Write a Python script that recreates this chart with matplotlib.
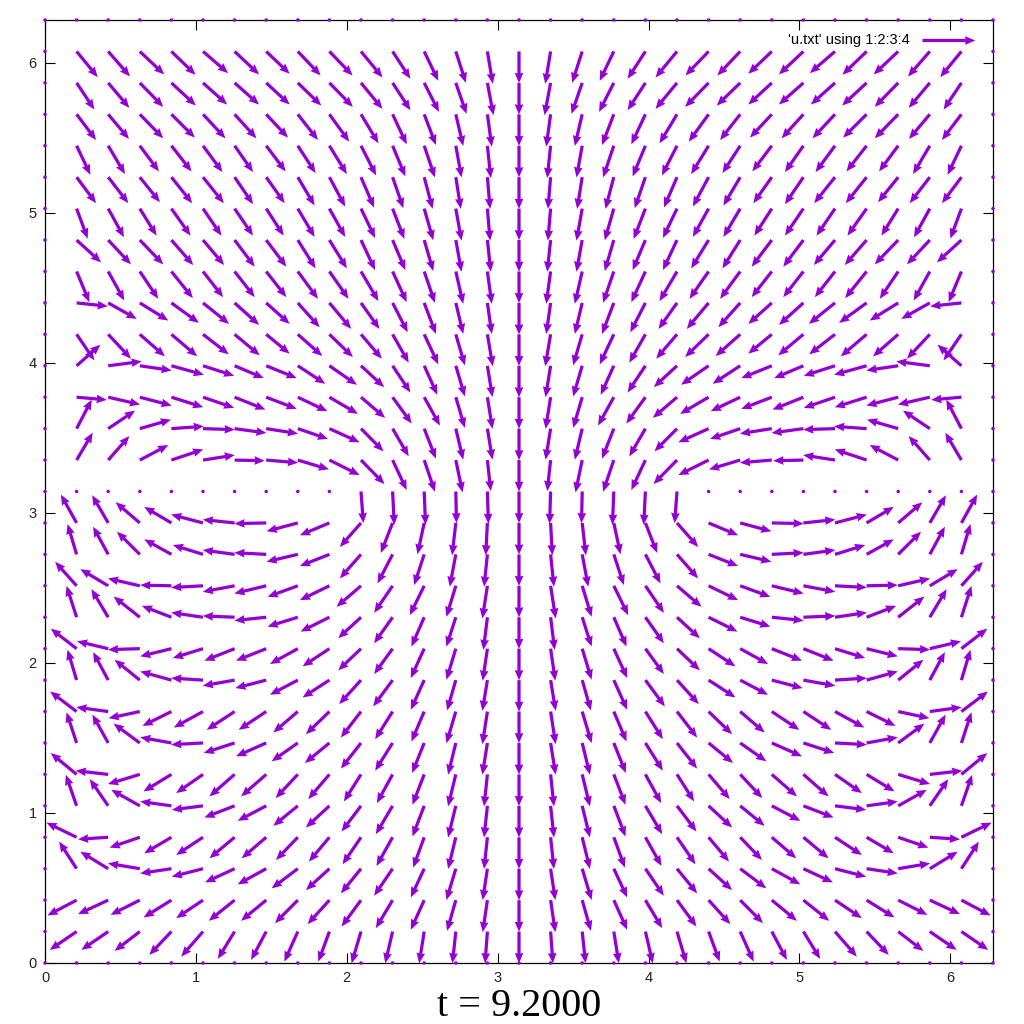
import numpy as np
import matplotlib
matplotlib.use("Agg")
import matplotlib.pyplot as plt

# ---------------- data ----------------
# Domain [0, 2*pi] x [0, 2*pi], 31 x 31 grid points (spacing 2*pi/30).
# Boundary points and the left/right parts of row y = pi are zero vectors.
N_CELLS = 30
DOMAIN = 2 * np.pi

# Vector components for the left half (columns i = 1..15),
# rows listed from top (j = 29) to bottom (j = 1).
# Units: 1/450 of a data unit (u right-positive, v up-positive).
# The field is mirror-symmetric about x = pi (u -> -u, v -> v).
U_HALF = [
    [63, 65, 73, 72, 75, 73, 70, 68, 69, 64, 53, 42, 30, 16, 0],        # j=29
    [53, 63, 70, 73, 72, 73, 70, 70, 70, 64, 53, 44, 32, 18, 0],        # j=28
    [58, 62, 70, 70, 67, 65, 65, 60, 59, 52, 42, 35, 22, 13, 0],        # j=27
    [41, 50, 57, 60, 58, 55, 58, 53, 52, 45, 38, 32, 17, 10, 0],        # j=26
    [58, 60, 60, 62, 62, 55, 55, 50, 47, 39, 32, 25, 15, 8, 0],         # j=25
    [33, 47, 50, 57, 55, 55, 52, 50, 47, 42, 35, 27, 17, 8, 0],         # j=24
    [73, 68, 70, 65, 63, 60, 60, 53, 52, 42, 38, 27, 17, 10, 0],        # j=23
    [38, 48, 55, 64, 60, 60, 60, 60, 57, 52, 42, 32, 22, 13, 0],        # j=22
    [93, 85, 85, 82, 78, 73, 70, 65, 65, 55, 45, 35, 22, 13, 0],        # j=21
    [53, 68, 75, 77, 77, 75, 70, 73, 70, 62, 48, 42, 27, 16, 0],        # j=20
    [71, 100, 95, 97, 93, 87, 91, 82, 82, 69, 53, 39, 27, 15, 0],       # j=19
    [90, 95, 95, 95, 93, 92, 91, 88, 85, 72, 57, 47, 27, 15, 0],        # j=18
    [45, 80, 93, 97, 95, 95, 95, 90, 90, 67, 48, 35, 22, 15, 0],        # j=17
    [48, 63, 85, 95, 95, 90, 95, 93, 90, 70, 42, 32, 20, 10, 0],        # j=16
    [0, 0, 0, 0, 0, 0, 0, 0, 0, 7, 5, 4, 2, 3, 0],                      # j=15
    [-47, -48, -72, -81, -95, -95, -95, -93, -88, -63, -35, -20, -11, -5, 0],   # j=14
    [-27, -45, -68, -81, -90, -95, -95, -93, -88, -63, -45, -30, -18, -10, 0],  # j=13
    [-64, -83, -95, -93, -95, -95, -95, -90, -88, -73, -55, -43, -28, -15, 0],  # j=12
    [-30, -50, -78, -88, -95, -95, -95, -90, -86, -68, -55, -38, -28, -12, 0],  # j=11
    [-77, -93, -95, -93, -90, -90, -90, -83, -80, -68, -55, -40, -28, -14, 0],  # j=10
    [-27, -45, -75, -93, -95, -95, -92, -83, -80, -65, -58, -40, -26, -15, 0],  # j=9
    [-79, -95, -93, -86, -87, -83, -82, -73, -70, -60, -52, -38, -28, -15, 0],  # j=8
    [-30, -47, -78, -93, -95, -92, -90, -78, -73, -60, -52, -36, -23, -15, 0],  # j=7
    [-77, -97, -95, -83, -80, -75, -75, -66, -63, -51, -47, -35, -23, -10, 0],  # j=6
    [-32, -55, -85, -93, -93, -90, -85, -73, -70, -58, -50, -35, -23, -10, 0],  # j=5
    [-90, -90, -90, -81, -80, -75, -73, -65, -61, -55, -48, -33, -23, -10, 0],  # j=4
    [-52, -83, -95, -93, -93, -88, -85, -78, -70, -60, -55, -40, -28, -14, 0],  # j=3
    [-87, -90, -87, -83, -80, -77, -75, -68, -65, -58, -50, -40, -26, -14, 0],  # j=2
    [-80, -80, -75, -66, -65, -50, -45, -40, -33, -28, -22, -15, -10, -7, 0],   # j=1
]
V_HALF = [
    [-77, -75, -69, -70, -65, -69, -67, -72, -72, -78, -82, -88, -94, -97, -95],  # j=29
    [-80, -75, -72, -68, -65, -65, -65, -68, -72, -78, -82, -87, -93, -97, -95],  # j=28
    [-77, -74, -72, -70, -72, -72, -70, -77, -82, -87, -90, -92, -95, -97, -95],  # j=27
    [-87, -85, -77, -77, -79, -79, -77, -82, -85, -89, -92, -95, -95, -97, -95],  # j=26
    [-78, -78, -75, -78, -78, -81, -78, -85, -88, -91, -93, -95, -95, -95, -95],  # j=25
    [-90, -86, -81, -81, -81, -81, -81, -85, -85, -88, -91, -95, -96, -96, -95],  # j=24
    [-67, -73, -73, -75, -75, -80, -80, -85, -85, -90, -90, -93, -95, -95, -95],  # j=23
    [-92, -87, -82, -80, -77, -77, -77, -82, -82, -89, -92, -94, -97, -97, -95],  # j=22
    [-10, -48, -53, -60, -63, -66, -63, -73, -78, -78, -88, -93, -93, -93, -95],  # j=21
    [-78, -73, -66, -66, -60, -63, -58, -65, -68, -73, -85, -90, -93, -96, -95],  # j=20
    [63, 13, -14, -27, -30, -37, -37, -54, -57, -64, -80, -87, -92, -94, -95],    # j=19
    [-8, -22, -25, -30, -32, -37, -35, -42, -50, -62, -79, -85, -92, -95, -95],   # j=18
    [87, 54, 27, 7, -3, -13, -15, -31, -41, -68, -83, -90, -93, -93, -95],        # j=17
    [82, 72, 45, 32, 15, -2, -8, -28, -45, -72, -90, -95, -97, -93, -95],         # j=16
    [0, 0, 0, 0, 0, 0, 0, 0, 0, -95, -100, -100, -95, -97, -95],                  # j=15
    [85, 83, 62, 48, 25, 10, -2, -25, -37, -72, -90, -94, -97, -97, -95],         # j=14
    [91, 83, 68, 45, 28, 13, 5, -22, -35, -72, -87, -92, -97, -97, -95],          # j=13
    [72, 50, 22, 2, -5, -18, -23, -33, -43, -63, -81, -88, -93, -98, -95],        # j=12
    [94, 84, 62, 34, 14, 4, -10, -28, -43, -63, -78, -88, -88, -98, -95],         # j=11
    [60, 22, -3, -23, -28, -36, -36, -46, -53, -65, -76, -88, -93, -96, -95],     # j=10
    [91, 84, 61, 26, 6, -17, -24, -44, -52, -72, -79, -89, -91, -92, -95],        # j=9
    [60, 13, -20, -43, -48, -55, -55, -63, -68, -78, -83, -90, -95, -98, -95],    # j=8
    [92, 85, 58, 17, -5, -30, -40, -55, -60, -77, -83, -90, -95, -95, -95],       # j=7
    [64, 11, -29, -51, -56, -66, -66, -71, -74, -81, -86, -91, -96, -96, -95],    # j=6
    [93, 80, 48, 13, -12, -35, -45, -60, -65, -77, -85, -92, -95, -95, -95],      # j=5
    [44, -6, -31, -48, -53, -63, -63, -68, -73, -81, -86, -91, -95, -95, -95],    # j=4
    [81, 51, 16, -14, -24, -41, -47, -59, -64, -74, -81, -86, -94, -94, -95],     # j=3
    [-46, -42, -44, -52, -54, -62, -62, -69, -72, -79, -84, -89, -92, -96, -95],  # j=2
    [-55, -55, -58, -70, -75, -82, -85, -90, -90, -95, -95, -95, -95, -95, -95],  # j=1
]
UNIT = 450.0
X_TICKS = [0, 1, 2, 3, 4, 5, 6]
Y_TICKS = [0, 1, 2, 3, 4, 5, 6]
LEGEND_LABEL = "'u.txt' using 1:2:3:4"
KEY_LENGTH = 0.35
TITLE = "t = 9.2000"

# ---------------- build full grid ----------------
n = N_CELLS + 1
xs = np.linspace(0, DOMAIN, n)
ys = np.linspace(0, DOMAIN, n)
X, Y = np.meshgrid(xs, ys)
U = np.zeros((n, n))
V = np.zeros((n, n))
uh = np.array(U_HALF, dtype=float) / UNIT
vh = np.array(V_HALF, dtype=float) / UNIT
for r in range(uh.shape[0]):
    j = N_CELLS - 1 - r
    for k in range(uh.shape[1]):
        i = k + 1
        U[j, i] = uh[r, k]
        V[j, i] = vh[r, k]
        im = N_CELLS - i
        if im != i:
            U[j, im] = -uh[r, k]
            V[j, im] = vh[r, k]

# ---------------- plot ----------------
color = "#9400D3"
fig = plt.figure(figsize=(10.24, 10.24), dpi=100)
ax = fig.add_axes([45 / 1024, 61 / 1024, 948 / 1024, 943 / 1024])
ax.set_xlim(0, DOMAIN)
ax.set_ylim(0, DOMAIN)

Q = ax.quiver(X, Y, U, V, angles="xy", scale_units="xy", scale=1,
              color=color, width=0.0034, headwidth=2.7, headlength=3.2,
              headaxislength=3.0, minlength=1.2, minshaft=1.0, zorder=3,
              clip_on=False)

ax.quiverkey(Q, 922 / 1024, 1 - 40 / 1024, KEY_LENGTH, LEGEND_LABEL,
             labelpos="W", coordinates="figure", color=color, labelsep=0.12,
             fontproperties={"family": "Liberation Sans", "size": 10.5})

ax.set_xticks(X_TICKS)
ax.set_yticks(Y_TICKS)
ax.tick_params(direction="in", length=7.5, width=0.8, top=True, right=True,
               labelsize=10.5, pad=6, colors="black")
for lab in ax.get_xticklabels() + ax.get_yticklabels():
    lab.set_fontfamily("Liberation Sans")
    lab.set_color("#222222")
for s in ax.spines.values():
    s.set_linewidth(0.9)

fig.text(0.507, 0.008, TITLE, ha="center", va="baseline",
         fontfamily="Liberation Serif", fontsize=29)

fig.savefig("out.png", dpi=100)
